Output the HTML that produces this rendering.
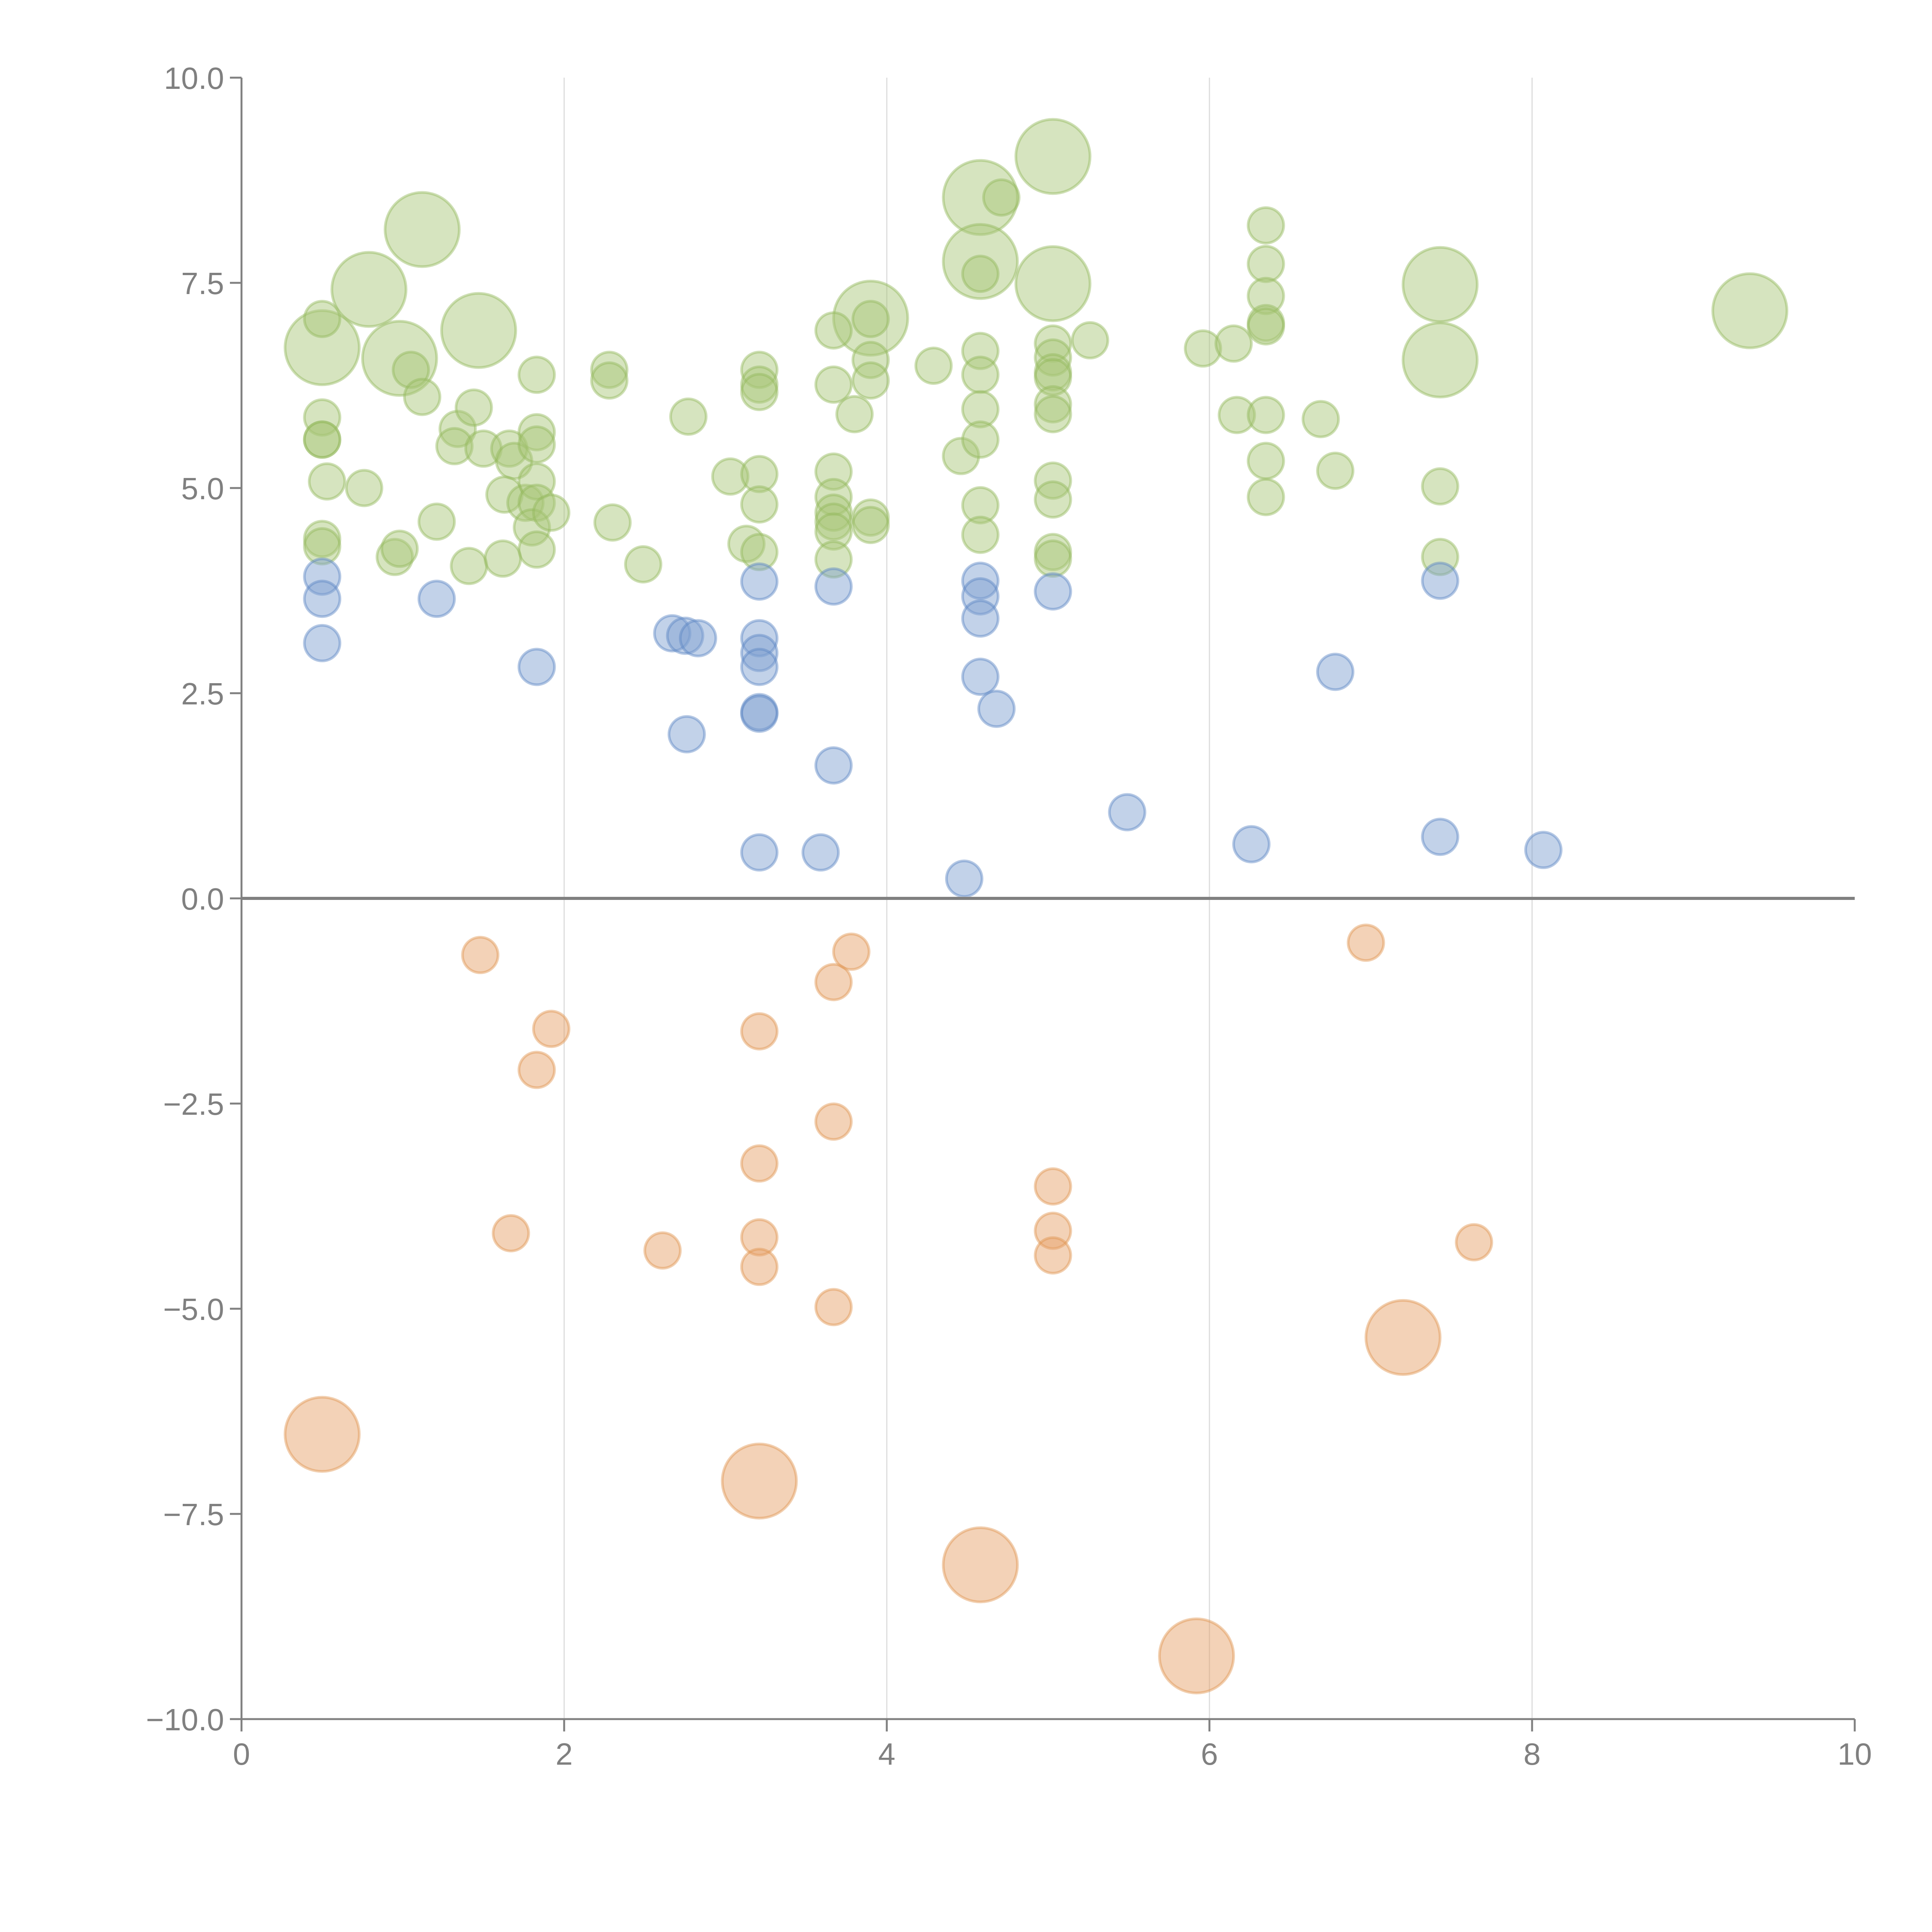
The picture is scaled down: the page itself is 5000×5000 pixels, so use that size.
<!DOCTYPE html>
<html><head><meta charset="utf-8"><style>
html,body{margin:0;padding:0;background:#fff;width:5000px;height:5000px;overflow:hidden}
svg{display:block}
text{font-family:"Liberation Sans",sans-serif;fill:#808080}
</style></head><body>
<svg id="chart" width="5000" height="5000" viewBox="0 0 5000 5000" xmlns="http://www.w3.org/2000/svg">
<g id="grid"></g>
<g id="marks"></g>
<g id="axes"></g>
</svg>
<script>
const xTicks=[0,2,4,6,8,10];
const yTicks=[10,7.5,5,2.5,0,-2.5,-5,-7.5,-10];
const yTickLabels=["10.0","7.5","5.0","2.5","0.0","\u22122.5","\u22125.0","\u22127.5","\u221210.0"];
const greenX=[0.50,0.79,1.12,0.98,1.47,4.58,4.58,5.03,5.03,3.90,7.43,7.43,9.35,
0.50,0.50,0.50,0.50,0.53,0.76,0.50,0.50,1.05,1.12,1.34,1.32,1.44,1.50,1.66,1.69,1.63,1.76,1.83,1.83,1.83,1.83,1.83,1.80,1.92,1.83,1.21,1.41,1.62,0.95,0.98,2.28,2.28,2.30,2.49,2.77,3.03,3.13,3.21,3.21,3.21,3.21,3.21,3.21,3.67,3.67,3.67,3.67,3.67,3.67,3.67,3.67,3.80,3.90,3.90,3.90,3.90,3.90,4.29,4.46,4.58,4.58,4.58,4.58,4.58,4.58,4.58,4.71,5.03,5.03,5.03,5.03,5.03,5.03,5.03,5.03,5.03,5.03,5.26,5.96,6.15,6.17,6.35,6.35,6.35,6.35,6.35,6.35,6.35,6.35,6.69,6.78,7.43,7.43];
const greenY=[6.71,7.42,8.15,6.58,6.92,8.54,7.76,9.04,7.49,7.07,7.48,6.56,7.16,
7.06,5.86,5.59,5.59,5.08,5.00,4.38,4.29,6.44,6.11,5.72,5.51,5.98,5.48,5.48,5.33,4.92,4.82,6.38,5.68,5.53,5.08,4.82,4.52,4.70,4.25,4.59,4.05,4.14,4.16,4.26,6.44,6.31,4.58,4.07,5.87,5.14,4.32,6.44,6.26,6.17,5.17,4.80,4.22,6.92,6.26,5.20,4.89,4.70,4.59,4.47,4.13,5.90,7.06,6.56,6.31,4.64,4.55,6.49,5.39,6.67,6.38,5.96,5.59,4.79,4.43,7.61,8.54,6.76,6.59,6.41,6.35,6.02,5.90,5.09,4.86,4.22,4.14,6.80,6.70,6.76,5.89,8.20,7.73,7.34,7.01,6.97,5.89,5.33,4.89,5.84,5.21,5.02,4.16];
const greenS=[2,2,2,2,2,2,2,2,2,2,2,2,2].concat(new Array(greenX.length-13).fill(1));
const blueX=[0.50,0.50,0.50,1.21,1.83,2.67,2.75,2.83,2.76,3.21,3.21,3.21,3.21,3.21,3.21,3.21,3.67,3.67,3.59,4.48,4.58,4.58,4.58,4.58,4.68,5.03,5.49,6.26,6.78,7.43,7.43,8.07];
const blueY=[3.92,3.65,3.11,3.65,2.82,3.23,3.20,3.17,2.00,3.86,3.17,2.99,2.82,2.27,2.25,0.56,3.80,1.62,0.56,0.24,3.87,3.68,3.41,2.70,2.31,3.74,1.05,0.66,2.76,3.87,0.75,0.59];
const blueS=new Array(blueX.length).fill(1);
const orangeX=[1.48,1.92,1.83,1.67,2.61,3.21,3.21,3.21,3.21,3.67,3.78,3.67,3.67,5.03,5.03,5.03,6.97,7.64,0.50,3.21,4.58,5.92,7.20];
const orangeY=[-0.69,-1.59,-2.09,-4.08,-4.29,-1.62,-3.23,-4.13,-4.49,-1.02,-0.65,-2.72,-4.98,-3.51,-4.05,-4.35,-0.54,-4.19,-6.53,-7.10,-8.12,-9.23,-5.35];
const orangeS=[1,1,1,1,1,1,1,1,1,1,1,1,1,1,1,1,1,1,2,2,2,2,2];

const X0=625,X1=4800,Y0=4449,Y1=201;
function sx(v){return X0+(v-0)/(10-0)*(X1-X0);}
function sy(v){return Y0-(v+10)/20*(Y0-Y1);}
function rs(s){return s===2?96:46;}
const NS="http://www.w3.org/2000/svg";
function mk(tag,attrs,parent){const e=document.createElementNS(NS,tag);for(const k in attrs)e.setAttribute(k,attrs[k]);parent.appendChild(e);return e;}
const grid=document.getElementById('grid'),marks=document.getElementById('marks'),axes=document.getElementById('axes');
xTicks.forEach(t=>{if(t===0||t===10)return;
 const l=mk('line',{x1:sx(t),x2:sx(t),y1:Y1,y2:Y0,stroke:'#dcdcdc','stroke-width':3},grid);
 
 
});
function series(xs,ys,ss,fill,stroke,name){
 xs.forEach((x,i)=>{
  const c=mk('circle',{cx:sx(x),cy:sy(ys[i]),r:rs(ss[i]),fill:fill,'fill-opacity':0.47,stroke:stroke,'stroke-opacity':0.45,'stroke-width':7},marks);
  
  
 });
}
series(greenX,greenY,greenS,'#a7c678','#93b95c','green-bubble');
series(blueX,blueY,blueS,'#7d9fd0','#5a86c4','blue-bubble');
series(orangeX,orangeY,orangeS,'#e6a066','#e0954f','orange-bubble');
let a=mk('line',{x1:X0,x2:X0,y1:Y1,y2:Y0,stroke:'#808080','stroke-width':5},axes);


a=mk('line',{x1:X0-20,x2:X1,y1:Y0,y2:Y0,stroke:'#808080','stroke-width':5},axes);


a=mk('line',{x1:X0,x2:X1,y1:sy(0),y2:sy(0),stroke:'#808080','stroke-width':8},axes);


yTicks.forEach((t,i)=>{
 const tk=mk('line',{x1:X0-30,x2:X0,y1:sy(t),y2:sy(t),stroke:'#808080','stroke-width':5},axes);
 
 
 const tx=mk('text',{x:X0-45,y:sy(t)+29,'text-anchor':'end','font-size':80},axes);
 tx.textContent=yTickLabels[i];
 
 
});
xTicks.forEach(t=>{
 const tk=mk('line',{x1:sx(t),x2:sx(t),y1:Y0,y2:Y0+32,stroke:'#808080','stroke-width':5},axes);
 
 
 const tx=mk('text',{x:sx(t),y:Y0+118,'text-anchor':'middle','font-size':80},axes);
 tx.textContent=String(t);
 
 
});
</script>
</body></html>
